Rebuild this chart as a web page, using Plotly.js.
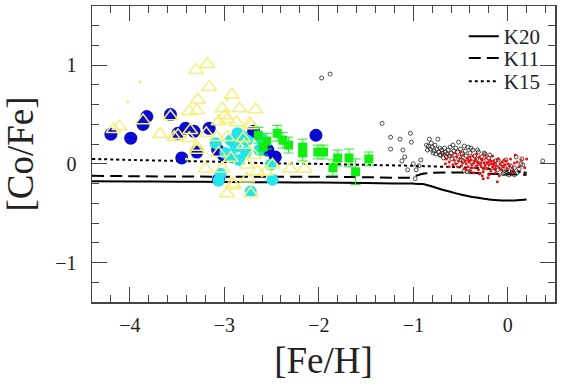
<!DOCTYPE html>
<html>
<head>
<meta charset="utf-8">
<script src="https://cdn.plot.ly/plotly-3.0.1.min.js"></script>
<style>html,body{margin:0;padding:0;background:#fff}#chart{width:570px;height:388px}</style>
</head>
<body>
<div id="chart"></div>
<script>
// Model curves
const k20X = [-4.4,-4.0,-3.5,-3.0,-2.5,-2.0,-1.5,-1.2,-1.0,-0.9,-0.8,-0.7,-0.6,-0.5,-0.4,-0.3,-0.2,-0.1,0.0,0.1,0.2];
const k20Y = [-0.175,-0.178,-0.18,-0.183,-0.187,-0.19,-0.195,-0.198,-0.2,-0.205,-0.23,-0.26,-0.285,-0.31,-0.33,-0.345,-0.36,-0.37,-0.372,-0.368,-0.362];
const k11X = [-4.4,-4.0,-3.0,-2.0,-1.5,-1.2,-1.05,-1.0,-0.9,-0.8,-0.6,-0.4,-0.2,0.0,0.2];
const k11Y = [-0.12,-0.125,-0.13,-0.13,-0.135,-0.14,-0.14,-0.13,-0.10,-0.09,-0.088,-0.09,-0.10,-0.105,-0.11];
const k15X = [-4.4,-4.0,-3.5,-3.0,-2.5,-2.0,-1.5,-1.0,-0.5,-0.2,0.0,0.2];
const k15Y = [0.05,0.04,0.03,0.02,0.005,0.0,-0.01,-0.02,-0.035,-0.05,-0.07,-0.09];
const lineNames = ["K20","K11","K15"];

// Blue filled circles
const blueX = [-4.20,-3.99,-3.82,-3.86,-3.57,-3.49,-3.41,-3.32,-3.29,-3.45,-3.16,-3.07,-3.06,-3.01,-2.69,-2.54,-2.46,-2.03];
const blueY = [0.30,0.26,0.48,0.40,0.50,0.31,0.36,0.33,0.12,0.06,0.36,0.14,-0.16,0.09,0.33,0.14,0.07,0.29];

// Cyan filled circles
const cyanX = [-3.09,-3.06,-2.93,-2.86,-2.81,-2.77,-2.93,-2.84,-2.99,-2.63,-2.61,-2.51,-2.49,-2.72,-2.88,-3.04,-2.76];
const cyanY = [0.21,-0.17,0.24,0.31,0.28,0.12,0.07,0.04,0.11,0.14,0.26,-0.01,-0.16,-0.28,0.17,-0.10,0.24];

// Yellow open triangles
const triX = [-3.18,-3.30,-3.16,-2.92,-3.28,-3.02,-2.84,-2.67,-3.37,-3.29,-2.99,-2.97,-2.87,-2.73,-3.06,-4.11,-4.17,-3.68,-3.86,-3.57,-3.49,-3.37,-3.29,-3.19,-3.08,-2.97,-2.80,-3.20,-3.02,-2.93,-2.76,-2.65,-2.56,-2.49,-2.30,-2.15,-3.06,-2.69,-2.91,-2.76,-2.97,-2.72,-3.53,-3.36,-3.29,-2.90,-2.72,-2.79];
const triY = [1.01,0.95,0.78,0.70,0.65,0.56,0.56,0.55,0.53,0.54,0.49,0.45,0.42,0.41,0.43,0.38,0.35,0.30,0.44,0.48,0.29,0.26,0.17,0.31,0.27,0.27,0.26,-0.05,-0.05,0.06,-0.01,-0.08,-0.08,-0.01,-0.05,-0.05,0.11,0.09,-0.20,-0.15,-0.30,-0.30,0.27,0.34,0.14,-0.22,0.39,0.19];

// Small yellow dots
const ydotX = [-3.89,-4.02,-2.97,-3.40,-2.60];
const ydotY = [0.83,0.63,0.65,0.05,-0.12];

// Green squares with error bars
const greenX = [-2.64,-2.55,-2.59,-2.44,-2.38,-2.32,-2.17,-2.17,-2.01,-1.95,-1.80,-1.85,-1.68,-1.61,-1.47];
const greenY = [0.29,0.23,0.17,0.31,0.24,0.19,0.17,0.11,0.12,0.12,0.06,-0.04,0.06,-0.08,0.05];
const greenErr = [0.08,0.08,0.08,0.08,0.08,0.08,0.08,0.08,0.07,0.07,0.08,0.08,0.09,0.13,0.07];

// Small black open circles
const blackX = [-1.88,-1.97,-1.33,-1.24,-1.14,-1.03,-1.02,-1.24,-1.11,-1.09,-1.12,-1.06,-1.00,-0.97,-0.98,-0.94,-0.92,-0.83,-0.86,-0.81,-0.85,-0.79,-0.74,-0.72,-0.71,-0.65,-0.58,-0.52,-0.46,-0.39,-0.49,-0.32,-0.25,-0.19,-0.10,-0.02,0.09,0.16,0.37,
  -0.84,-0.82,-0.80,-0.78,-0.77,-0.76,-0.75,-0.73,-0.72,-0.70,-0.69,-0.68,-0.67,-0.66,-0.64,-0.63,-0.62,-0.61,-0.60,-0.59,-0.57,-0.56,-0.55,-0.54,-0.53,-0.51,-0.50,-0.48,-0.47,-0.45,-0.44,-0.42,-0.41,-0.40,-0.38,-0.37,-0.35,-0.33,-0.31,-0.30,-0.28,-0.26,-0.24,-0.22,-0.20,-0.17,-0.15,-0.13,-0.11,-0.08,-0.06,-0.04,-0.02,0.01,0.03,0.05,0.07,0.10,0.12,0.14,0.15,
  -0.46,-0.43,-0.40,-0.05,-0.02,0.01,0.04,0.07];
const blackY = [0.91,0.87,0.41,0.27,0.25,0.31,0.22,0.15,0.14,0.07,0.03,-0.06,0.00,-0.06,-0.15,-0.02,0.04,0.25,0.19,0.21,0.14,0.11,0.25,0.16,0.09,0.07,0.19,0.22,0.18,0.16,0.04,0.14,0.11,0.09,0.04,0.04,0.07,-0.01,0.03,
  0.18,0.15,0.17,0.13,0.19,0.10,0.15,0.12,0.09,0.14,0.11,0.06,0.16,0.12,0.10,0.14,0.08,0.17,0.11,0.05,0.13,0.09,0.16,0.02,0.12,0.07,0.15,0.10,0.03,0.13,0.08,0.17,0.05,0.11,0.02,0.14,0.08,0.05,0.12,0.00,0.07,0.03,0.10,-0.02,0.06,0.01,-0.04,0.03,-0.06,-0.03,0.00,-0.09,-0.05,-0.07,-0.02,-0.08,-0.04,-0.09,-0.05,0.00,0.05,
  -0.07,-0.08,-0.08,-0.10,-0.10,-0.11,-0.10,-0.11];

// Small red dots
const redX = [-0.68,-0.65,-0.62,-0.60,-0.58,-0.57,-0.55,-0.54,-0.53,-0.52,-0.50,-0.49,-0.48,-0.47,-0.46,-0.45,-0.44,-0.43,-0.42,-0.41,-0.40,-0.39,-0.38,-0.37,-0.36,-0.35,-0.34,-0.33,-0.32,-0.31,-0.30,-0.29,-0.28,-0.27,-0.26,-0.25,-0.24,-0.23,-0.22,-0.21,-0.20,-0.19,-0.18,-0.17,-0.16,-0.15,-0.14,-0.13,-0.12,-0.11,-0.10,-0.09,-0.08,-0.07,-0.06,-0.05,-0.04,-0.03,-0.02,-0.01,0.00,0.02,0.03,0.05,0.07,0.08,0.10,0.12,0.14,
  -0.44,-0.40,-0.36,-0.33,-0.30,-0.27,-0.24,-0.20,-0.16,-0.13,-0.09,-0.35,-0.31,-0.28,-0.22,-0.18,-0.42,-0.38,-0.25,-0.15,-0.50,-0.56,-0.62,-0.66,-0.26,-0.21,0.05,0.18,0.20];
const redY = [0.10,0.05,0.02,0.08,-0.01,0.04,0.00,0.07,-0.03,0.03,0.06,-0.02,0.01,0.09,-0.05,0.03,0.00,0.06,-0.03,0.02,-0.07,0.04,-0.01,0.08,0.01,-0.04,0.05,-0.02,0.02,-0.06,0.07,0.00,-0.03,0.04,-0.08,0.01,-0.02,0.06,-0.05,0.02,-0.01,0.04,-0.07,0.00,-0.03,0.03,-0.05,0.01,-0.02,-0.18,0.05,-0.04,0.00,-0.06,0.02,-0.03,0.04,-0.01,0.03,-0.05,0.00,-0.02,0.05,-0.04,0.01,0.09,0.02,-0.03,0.04,
  -0.06,0.07,-0.09,0.10,-0.10,-0.12,0.09,-0.11,0.08,-0.09,-0.12,0.03,0.01,0.05,0.01,0.03,0.04,-0.04,-0.05,-0.01,0.12,0.11,-0.03,0.00,-0.15,-0.14,-0.09,-0.04,0.05];

const xTicks = [-4,-3,-2,-1,0];
const yTicks = [-1,0,1];

const serif = "'Liberation Serif', 'Times New Roman', serif";
const traces = [];
const dashes = ["solid","12px,6px","dot"];
const legendIds = ["legend","legend2","legend3"];
const lx = [k20X,k11X,k15X], ly = [k20Y,k11Y,k15Y];
for (let i=0;i<3;i++){
  traces.push({x:lx[i],y:ly[i],name:lineNames[i],mode:"lines",type:"scatter",legend:legendIds[i],
    line:{color:"#000",width:2,dash:dashes[i],shape:"spline",smoothing:0.6},showlegend:true});
}
traces.push({x:blueX,y:blueY,mode:"markers",type:"scatter",showlegend:false,
  marker:{symbol:"circle",size:13,color:"#0a0ad0",line:{width:0}}});
traces.push({x:cyanX,y:cyanY,mode:"markers",type:"scatter",showlegend:false,
  marker:{symbol:"circle",size:12,color:"#22e4ee",line:{width:0}}});
traces.push({x:triX,y:triY,mode:"markers",type:"scatter",showlegend:false,
  marker:{symbol:"triangle-up-open",size:13,color:"#f5f07a",line:{width:1.5,color:"#f5f07a"}}});
traces.push({x:ydotX,y:ydotY,mode:"markers",type:"scatter",showlegend:false,
  marker:{symbol:"circle",size:3,color:"#f3ee6a"}});
traces.push({x:greenX,y:greenY,mode:"markers",type:"scatter",showlegend:false,
  error_y:{type:"data",array:greenErr,visible:true,color:"#22ee22",thickness:1,width:5},
  marker:{symbol:"square",size:9,color:"#11ee11"}});
traces.push({x:blackX,y:blackY,mode:"markers",type:"scatter",showlegend:false,
  marker:{symbol:"circle-open",size:4,color:"#222",line:{width:0.8,color:"#222"}}});
traces.push({x:redX,y:redY,mode:"markers",type:"scatter",showlegend:false,
  marker:{symbol:"circle",size:3,color:"#ee1111"}});

const axisCommon = {
  showgrid:false, zeroline:false, showline:true, linecolor:"#444", linewidth:1.5,
  mirror:"ticks", ticks:"inside", ticklen:15, tickwidth:1.2, tickcolor:"#444",
  tickfont:{family:serif,size:20,color:"#222"},
  minor:{dtick:0.2, ticks:"inside", ticklen:7, tickwidth:1, tickcolor:"#444", showgrid:false}
};
const legendCommon = {x:0.803,xanchor:"left",yanchor:"top",bgcolor:"rgba(0,0,0,0)",
  font:{family:serif,size:21,color:"#222"}};
const layout = {
  width:570, height:388,
  margin:{l:92,r:15,t:6,b:86},
  paper_bgcolor:"#fff", plot_bgcolor:"#fff",
  hovermode:false,
  font:{family:serif},
  xaxis:Object.assign({}, axisCommon, {range:[-4.4,0.5], tickvals:xTicks, ticklabelstandoff:4,
    title:{text:"[Fe/H]", font:{family:serif,size:37,color:"#222"}, standoff:12}}),
  yaxis:Object.assign({}, axisCommon, {range:[-1.4,1.6], tickvals:yTicks, ticklabelstandoff:10,
    title:{text:"[Co/Fe]", font:{family:serif,size:37,color:"#222"}, standoff:11}}),
  legend:Object.assign({}, legendCommon, {y:0.966}),
  legend2:Object.assign({}, legendCommon, {y:0.892}),
  legend3:Object.assign({}, legendCommon, {y:0.814})
};
Plotly.newPlot("chart", traces, layout, {staticPlot:true, displayModeBar:false});
</script>
</body>
</html>
